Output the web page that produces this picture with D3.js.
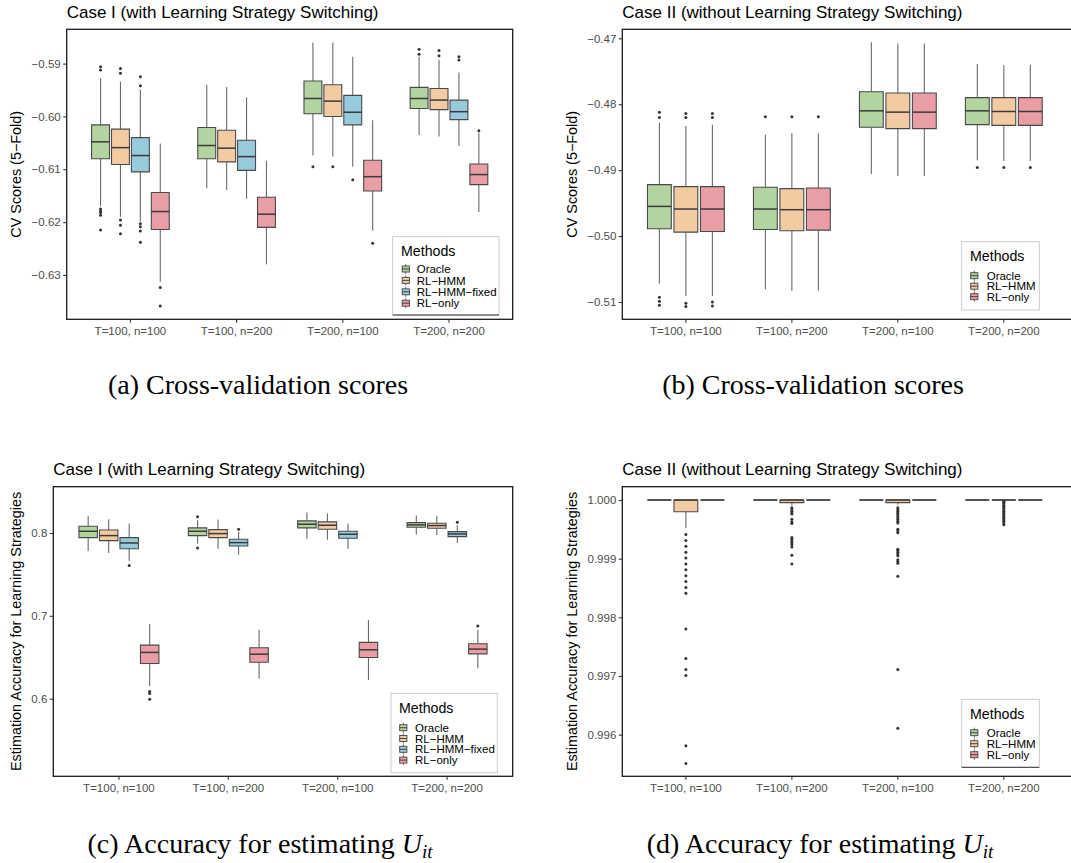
<!DOCTYPE html>
<html><head><meta charset="utf-8">
<script src="https://cdn.jsdelivr.net/npm/d3@7"></script>
<style>body{margin:0;background:#fff}</style>
</head><body><svg id="chart" width="1071" height="863"></svg>
<script>
// ---------------- DATA ----------------
const categories = ["T=100, n=100", "T=100, n=200", "T=200, n=100", "T=200, n=200"];
const methodsCase1 = ["Oracle", "RL−HMM", "RL−HMM−fixed", "RL−only"];
const methodsCase2 = ["Oracle", "RL−HMM", "RL−only"];
const methodColors = {"Oracle": "#B3D3A0", "RL−HMM": "#F3CBA3", "RL−HMM−fixed": "#98CADD", "RL−only": "#E89EA4"};

// box stats: [lower whisker, Q1, median, Q3, upper whisker] per category x method
const cvCase1Box = [
  [[-0.6170,-0.6080,-0.6048,-0.6016,-0.5928],[-0.6190,-0.6091,-0.6059,-0.6024,-0.5934],[-0.6199,-0.6105,-0.6074,-0.6040,-0.5949],[-0.6313,-0.6214,-0.6180,-0.6144,-0.6051]],
  [[-0.6136,-0.6080,-0.6055,-0.6021,-0.5940],[-0.6139,-0.6086,-0.6060,-0.6026,-0.5944],[-0.6156,-0.6102,-0.6076,-0.6045,-0.5964],[-0.6280,-0.6210,-0.6185,-0.6153,-0.6084]],
  [[-0.6074,-0.5995,-0.5966,-0.5933,-0.5860],[-0.6076,-0.6000,-0.5971,-0.5940,-0.5860],[-0.6095,-0.6016,-0.5992,-0.5960,-0.5887],[-0.6216,-0.6141,-0.6114,-0.6083,-0.6007]],
  [[-0.6035,-0.5985,-0.5966,-0.5945,-0.5887],[-0.6038,-0.5987,-0.5969,-0.5947,-0.5893],[-0.6056,-0.6006,-0.5991,-0.5969,-0.5917],[-0.6181,-0.6129,-0.6110,-0.6090,-0.6031]]
];
const cvCase1Out = [
  [[-0.5906,-0.5912,-0.6175,-0.6179,-0.6182,-0.6187,-0.6215],[-0.5909,-0.5918,-0.6196,-0.6206,-0.6222],[-0.5925,-0.5942,-0.6203,-0.6209,-0.6217,-0.6238],[-0.6324,-0.6359]],
  [[],[],[],[]],
  [[-0.6095],[-0.6095],[-0.6120],[-0.6240]],
  [[-0.5873,-0.5882],[-0.5875,-0.5885],[-0.5887,-0.5893],[-0.6027]]
];
const cvCase2Box = [
  [[-0.5072,-0.4989,-0.4955,-0.4922,-0.4828],[-0.5091,-0.4994,-0.4959,-0.4925,-0.4833],[-0.5091,-0.4993,-0.4959,-0.4925,-0.4831]],
  [[-0.5081,-0.4990,-0.4959,-0.4926,-0.4846],[-0.5083,-0.4992,-0.4960,-0.4928,-0.4844],[-0.5083,-0.4991,-0.4960,-0.4927,-0.4844]],
  [[-0.4906,-0.4835,-0.4810,-0.4781,-0.4706],[-0.4909,-0.4837,-0.4812,-0.4783,-0.4708],[-0.4909,-0.4837,-0.4812,-0.4783,-0.4708]],
  [[-0.4885,-0.4831,-0.4810,-0.4790,-0.4739],[-0.4886,-0.4832,-0.4811,-0.4790,-0.4741],[-0.4886,-0.4832,-0.4811,-0.4790,-0.4740]]
];
const cvCase2Out = [
  [[-0.4812,-0.4820,-0.5093,-0.5099,-0.5105],[-0.4814,-0.4820,-0.5102,-0.5107],[-0.4814,-0.4820,-0.5100,-0.5106]],
  [[-0.4819],[-0.4819],[-0.4819]],
  [[],[],[]],
  [[-0.4896],[-0.4896],[-0.4896]]
];
const accCase1Box = [
  [[0.7782,0.7943,0.8020,0.8081,0.8206],[0.7758,0.7907,0.7968,0.8036,0.8166],[0.7661,0.7810,0.7879,0.7943,0.8113],[0.6154,0.6424,0.6558,0.6646,0.6901]],
  [[0.7871,0.7968,0.8020,0.8061,0.8154],[0.7810,0.7943,0.7992,0.8040,0.8162],[0.7737,0.7842,0.7883,0.7923,0.8012],[0.6242,0.6440,0.6537,0.6614,0.6832]],
  [[0.7931,0.8061,0.8105,0.8145,0.8246],[0.7919,0.8044,0.8093,0.8133,0.8234],[0.7810,0.7935,0.7984,0.8020,0.8113],[0.6226,0.6497,0.6590,0.6679,0.6949]],
  [[0.7980,0.8069,0.8097,0.8125,0.8210],[0.7976,0.8057,0.8089,0.8117,0.8202],[0.7879,0.7956,0.7988,0.8016,0.8093],[0.6368,0.6541,0.6598,0.6663,0.6828]]
];
const accCase1Out = [
  [[],[],[0.7608],[0.6085,0.6061,0.5992]],
  [[0.8194,0.7818],[],[0.8044],[]],
  [[],[],[],[]],
  [[],[],[0.8129],[0.6877]]
];
const accCase2Box = [
  [[1,1,1,1,1],[0.99952,0.99980,1,1,1],[1,1,1,1,1]],
  [[1,1,1,1,1],[0.99991,0.999955,1,1,1],[1,1,1,1,1]],
  [[1,1,1,1,1],[0.99992,0.999955,1,1,1],[1,1,1,1,1]],
  [[1,1,1,1,1],[1,1,1,1,1],[1,1,1,1,1]]
];
const accCase2Out = [
  [[],[0.99941,0.99931,0.99921,0.99911,0.99901,0.99891,0.99881,0.99871,0.99861,0.99851,0.99841,0.99780,0.99730,0.99711,0.99701,0.99581,0.99551],[]],
  [[],[0.99987,0.99984,0.99981,0.99978,0.99976,0.99967,0.99963,0.99960,0.99936,0.99933,0.99930,0.99927,0.99924,0.99920,0.99906,0.99891],[]],
  [[],[0.99987,0.99984,0.99981,0.99978,0.99976,0.99973,0.99970,0.99967,0.99964,0.99961,0.99950,0.99947,0.99944,0.99916,0.99914,0.99911,0.99908,0.99905,0.99898,0.99895,0.99892,0.99870,0.99711,0.99611],[]],
  [[],[0.99998,0.99996,0.99994,0.99991,0.99989,0.99987,0.99985,0.99982,0.99980,0.99978,0.99976,0.99973,0.99971,0.99969,0.99966,0.99964,0.99961,0.99958],[]]
];
const cvCase1Ticks = [-0.63, -0.62, -0.61, -0.60, -0.59];
const cvCase2Ticks = [-0.51, -0.50, -0.49, -0.48, -0.47];
const accCase1Ticks = [0.6, 0.7, 0.8];
const accCase2Ticks = [0.996, 0.997, 0.998, 0.999, 1.000];
const titleCase1 = "Case I (with Learning Strategy Switching)";
const titleCase2 = "Case II (without Learning Strategy Switching)";
const cvLabel = "CV Scores (5−Fold)";
const accLabel = "Estimation Accuracy for Learning Strategies";
const legendTitle = "Methods";

// ---------------- DRAW ----------------
const svg = d3.select("#chart");
const SANS = "'Liberation Sans', Arial, sans-serif";

function panel(cfg) {
  const g = svg.append("g");
  const x = d3.scaleBand().domain(categories).range([cfg.left, cfg.right]).paddingInner(0).paddingOuter(0.1);
  const bw = x.bandwidth();
  const xs = d3.scaleBand().domain(cfg.methods).range([0.125 * bw, 0.875 * bw]).paddingInner(0.1).paddingOuter(0.05);
  const y = d3.scaleLinear().domain(cfg.yDomain).range([cfg.bottom, cfg.top]);

  // title
  g.append("text").attr("x", cfg.left).attr("y", cfg.top - 11.5)
    .attr("font-family", SANS).attr("font-size", 17).attr("fill", "#000").text(cfg.title);

  // boxes
  categories.forEach((cat, ci) => {
    cfg.methods.forEach((m, mi) => {
      const s = cfg.box[ci][mi];
      const x0 = x(cat) + xs(m), x1 = x0 + xs.bandwidth(), cx = (x0 + x1) / 2;
      const bg = g.append("g");
      bg.append("line").attr("x1", cx).attr("x2", cx).attr("y1", y(s[0])).attr("y2", y(s[1]))
        .attr("stroke", "#6a6a6a").attr("stroke-width", 1.1);
      bg.append("line").attr("x1", cx).attr("x2", cx).attr("y1", y(s[3])).attr("y2", y(s[4]))
        .attr("stroke", "#6a6a6a").attr("stroke-width", 1.1);
      bg.append("path").attr("d", `M${x0},${y(s[3])}H${x1}V${y(s[1])}H${x0}Z`)
        .attr("fill", methodColors[m]).attr("stroke", "#4a4a4a").attr("stroke-width", 1.1);
      bg.append("line").attr("x1", x0).attr("x2", x1).attr("y1", y(s[2])).attr("y2", y(s[2]))
        .attr("stroke", "#3a3a3a").attr("stroke-width", 1.5);
      bg.selectAll("circle").data(cfg.out[ci][mi]).join("circle")
        .attr("cx", cx).attr("cy", d => y(d)).attr("r", 1.5).attr("fill", "#333");
    });
  });

  // frame
  const fr = cfg.frameRight || cfg.right;
  g.append("rect").attr("x", cfg.left).attr("y", cfg.top).attr("width", fr - cfg.left).attr("height", cfg.bottom - cfg.top)
    .attr("fill", "none").attr("stroke", "#1a1a1a").attr("stroke-width", 1.3);

  // axes
  const ya = g.append("g").attr("transform", `translate(${cfg.left},0)`)
    .call(d3.axisLeft(y).tickValues(cfg.ticks).tickFormat(d3.format(cfg.fmt)).tickSize(3.5).tickPadding(2.5));
  const xa = g.append("g").attr("transform", `translate(0,${cfg.bottom})`)
    .call(d3.axisBottom(x).tickSize(3.5).tickPadding(4.2));
  [ya, xa].forEach(a => {
    a.select(".domain").remove();
    a.selectAll(".tick line").attr("stroke", "#333").attr("stroke-width", 1.1);
    a.selectAll(".tick text").attr("font-family", SANS).attr("font-size", 11.5).attr("fill", "#4d4d4d");
  });

  // y axis title
  g.append("text").attr("transform", `translate(${cfg.yTitleX},${(cfg.top + cfg.bottom) / 2}) rotate(-90)`)
    .attr("text-anchor", "middle").attr("dy", "0.35em")
    .attr("font-family", SANS).attr("font-size", 14.4).attr("fill", "#000").text(cfg.yLabel);

  // legend
  const L = cfg.legend;
  const lg = g.append("g");
  lg.append("rect").attr("x", L.x0).attr("y", L.y0).attr("width", L.x1 - L.x0).attr("height", L.y1 - L.y0)
    .attr("fill", "#fff").attr("stroke", "#c8c8c8").attr("stroke-width", 0.9);
  if (L.darkBottom) {
    lg.append("line").attr("x1", L.x0).attr("x2", L.x1).attr("y1", L.y1).attr("y2", L.y1)
      .attr("stroke", "#333").attr("stroke-width", 1);
  }
  lg.append("text").attr("x", L.titleX).attr("y", L.titleY).attr("dy", "0.35em")
    .attr("font-family", SANS).attr("font-size", 14.2).attr("fill", "#000").text(legendTitle);
  cfg.methods.forEach((m, i) => {
    const cy = L.itemY + i * L.step;
    lg.append("line").attr("x1", L.keyX).attr("x2", L.keyX).attr("y1", cy - 5).attr("y2", cy + 5)
      .attr("stroke", "#555").attr("stroke-width", 0.9);
    lg.append("rect").attr("x", L.keyX - 3.6).attr("y", cy - 3).attr("width", 7.2).attr("height", 6)
      .attr("fill", methodColors[m]).attr("stroke", "#444").attr("stroke-width", 0.9);
    lg.append("line").attr("x1", L.keyX - 3.6).attr("x2", L.keyX + 3.6).attr("y1", cy).attr("y2", cy)
      .attr("stroke", "#333").attr("stroke-width", 0.9);
    lg.append("text").attr("x", L.textX).attr("y", cy).attr("dy", "0.36em")
      .attr("font-family", SANS).attr("font-size", 11.5).attr("fill", "#000").text(m);
  });
}

panel({left: 66.7, right: 512.7, top: 29.3, bottom: 319.3, yDomain: [-0.6384, -0.5835],
  methods: methodsCase1, box: cvCase1Box, out: cvCase1Out, ticks: cvCase1Ticks, fmt: ".2f",
  title: titleCase1, yLabel: cvLabel, yTitleX: 16,
  legend: {x0: 392.7, x1: 499, y0: 236.7, y1: 315, titleX: 401, titleY: 250.7, itemY: 269, step: 11.4, keyX: 405.8, textX: 416.7, darkBottom: true}});

panel({left: 622.3, right: 1067.4, frameRight: 1080, top: 29.3, bottom: 319.3, yDomain: [-0.51263, -0.46863],
  methods: methodsCase2, box: cvCase2Box, out: cvCase2Out, ticks: cvCase2Ticks, fmt: ".2f",
  title: titleCase2, yLabel: cvLabel, yTitleX: 571.7,
  legend: {x0: 961.7, x1: 1039.3, y0: 241.7, y1: 310, titleX: 970, titleY: 256, itemY: 275.7, step: 10.5, keyX: 974.3, textX: 986.7, darkBottom: false}});

panel({left: 53.3, right: 512.7, top: 486.7, bottom: 776.3, yDomain: [0.5063, 0.8558],
  methods: methodsCase1, box: accCase1Box, out: accCase1Out, ticks: accCase1Ticks, fmt: ".1f",
  title: titleCase1, yLabel: accLabel, yTitleX: 16,
  legend: {x0: 391, x1: 497.3, y0: 693.3, y1: 772.7, titleX: 399, titleY: 708.3, itemY: 727.7, step: 10.8, keyX: 403.3, textX: 415, darkBottom: false}});

panel({left: 622.3, right: 1067.4, frameRight: 1080, top: 486.7, bottom: 776.3, yDomain: [0.99529, 1.000227],
  methods: methodsCase2, box: accCase2Box, out: accCase2Out, ticks: accCase2Ticks, fmt: ".3f",
  title: titleCase2, yLabel: accLabel, yTitleX: 571.7,
  legend: {x0: 961.7, x1: 1039.3, y0: 699.3, y1: 767.3, titleX: 970, titleY: 714, itemY: 732.7, step: 11, keyX: 974.3, textX: 986.7, darkBottom: true}});

// captions
const SERIF = "'Liberation Serif', 'Times New Roman', serif";
function caption(cx, by, label, math) {
  const t = svg.append("text").attr("x", cx).attr("y", by).attr("text-anchor", "middle")
    .attr("font-family", SERIF).attr("font-size", 28).attr("fill", "#000");
  t.append("tspan").text(label);
  if (math) {
    t.append("tspan").attr("font-style", "italic").text("U");
    t.append("tspan").attr("font-style", "italic").attr("font-size", 19).attr("dy", 5).text("it");
  }
}
caption(258, 394, "(a) Cross-validation scores", false);
caption(813, 394, "(b) Cross-validation scores", false);
caption(260, 853, "(c) Accuracy for estimating ", true);
caption(820, 853, "(d) Accuracy for estimating ", true);
</script>
</body></html>
